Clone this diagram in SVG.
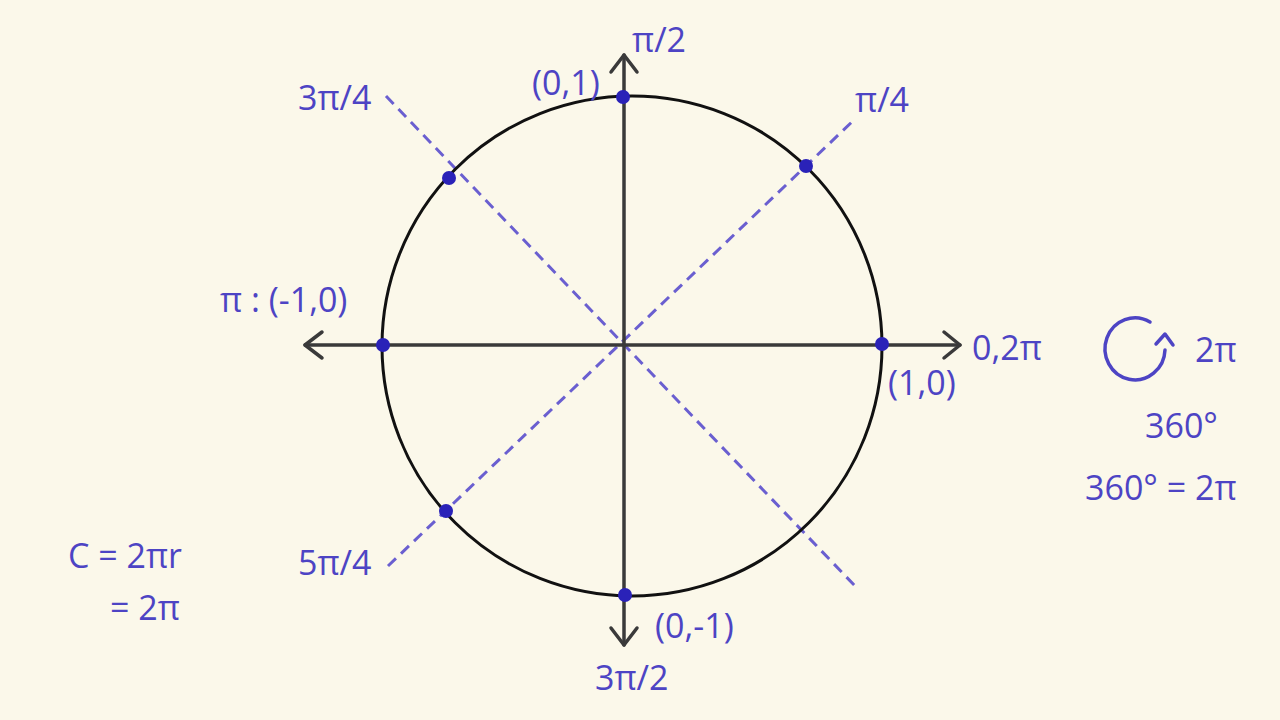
<svg xmlns="http://www.w3.org/2000/svg" width="1280" height="720" viewBox="0 0 1280 720">
<style>
.t{font-family:"Open Sans","DejaVu Sans",sans-serif;fill:#4d44c4;font-size:34px}
.ax{stroke:#3a3a3a;stroke-width:3.5;fill:none;stroke-linecap:round;stroke-linejoin:round}
.d{stroke:#6a5fd0;stroke-width:3;stroke-dasharray:11 7;fill:none}
.p{fill:#2a22b8}
</style>
<rect width="1280" height="720" fill="#fbf8ea"/>
<g id="connectors">
<line class="d" x1="388" y1="566" x2="856" y2="118"/>
<line class="d" x1="386" y1="96" x2="855" y2="586"/>
<line class="ax" x1="305" y1="345" x2="960" y2="345"/>
<polyline class="ax" points="322,332 305,345 322,358"/>
<polyline class="ax" points="944,332 960,345 944,358"/>
<line class="ax" x1="624" y1="55" x2="624" y2="645"/>
<polyline class="ax" points="611,72 624,55 637,72"/>
<polyline class="ax" points="611,628 624,645 637,628"/>
</g>
<g id="circle"><circle cx="632" cy="346" r="250" fill="none" stroke="#111" stroke-width="3"/></g>
<g id="points">
<circle class="p" cx="623" cy="97" r="7"/>
<circle class="p" cx="806" cy="166" r="7"/>
<circle class="p" cx="882" cy="344" r="7"/>
<circle class="p" cx="625" cy="595" r="7"/>
<circle class="p" cx="383" cy="345" r="7"/>
<circle class="p" cx="449" cy="178" r="7"/>
<circle class="p" cx="446" cy="511" r="7"/>
</g>
<g id="labels">
<text class="t" x="632" y="52">π/2</text>
<text class="t" x="532" y="95">(0,1)</text>
<text class="t" x="298" y="110">3π/4</text>
<text class="t" x="855" y="112">π/4</text>
<text class="t" x="220" y="312">π : (-1,0)</text>
<text class="t" x="972" y="360">0,2π</text>
<text class="t" x="888" y="395">(1,0)</text>
<text class="t" x="298" y="575">5π/4</text>
<text class="t" x="655" y="638">(0,-1)</text>
<text class="t" x="595" y="690">3π/2</text>
<text class="t" x="68" y="568" font-size="42">C = 2πr</text>
<text class="t" x="110" y="620" font-size="38">= 2π</text>
<text class="t" x="1195" y="362">2π</text>
<text class="t" x="1145" y="438">360°</text>
<text class="t" x="1085" y="500">360° = 2π</text>
<path d="M1150,322 A30,31 0 1 0 1165,350" fill="none" stroke="#4d44c4" stroke-width="3.5" stroke-linecap="round"/>
<polyline points="1156,344 1165,334 1173,345" fill="none" stroke="#4d44c4" stroke-width="3.5" stroke-linecap="round" stroke-linejoin="round"/>
</g>
</svg>
